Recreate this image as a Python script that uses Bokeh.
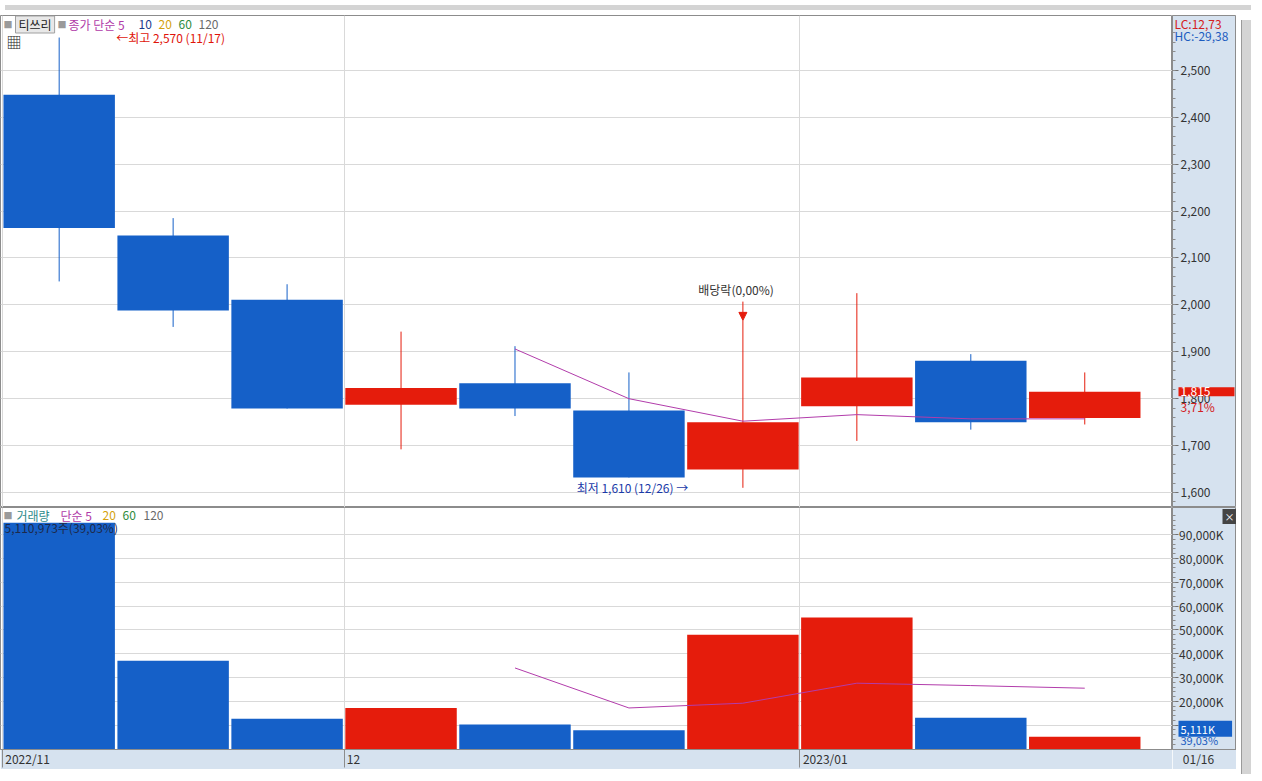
from bokeh.plotting import figure
from bokeh.models import FixedTicker, Label, Range1d, Div, Arrow, NormalHead
from bokeh.layouts import column, row
from bokeh.embed import file_html
from bokeh.resources import INLINE

# ---------------- data (weekly candles) ----------------
weeks = ["2022-11-14", "2022-11-21", "2022-11-28", "2022-12-05", "2022-12-12",
         "2022-12-19", "2022-12-26", "2023-01-02", "2023-01-09", "2023-01-16"]
opens = [2448, 2148, 2011, 1787, 1833, 1775, 1649, 1784, 1881, 1759]
highs = [2570, 2185, 2044, 1943, 1912, 1856, 1967, 2025, 1895, 1856]
lows = [2050, 1953, 1779, 1692, 1763, 1632, 1610, 1710, 1734, 1745]
closes = [2164, 1988, 1779, 1823, 1779, 1632, 1750, 1845, 1750, 1815]
price_ma5_idx = [4, 5, 6, 7, 8, 9]
price_ma5 = [1906, 1800, 1752, 1766, 1757, 1757]
volumes_k = [95000, 37000, 12700, 17200, 10300, 7850, 47900, 55200, 13095, 5111]
volume_ma5_idx = [4, 5, 6, 7, 8, 9]
volume_ma5_k = [34000, 17200, 19200, 27600, 26600, 25500]
month_ticks = [-0.5, 2.5, 6.5]
month_labels = ["2022/11", "12", "2023/01"]
price_ticks = [1600, 1700, 1800, 1900, 2000, 2100, 2200, 2300, 2400, 2500]
volume_ticks = [10000, 20000, 30000, 40000, 50000, 60000, 70000, 80000, 90000]

# ---------------- style ----------------
FONT = "Noto Sans CJK KR"
UP = "#e51c0c"
DOWN = "#1560c8"
MA = "#b23cab"
AXIS_BG = "#d6e2ef"
GRID = "#d9d9d9"
EDGE = "#8c8c8c"
FRAME_W = 1172
AXIS_W = 64
H_PRICE = 492
H_VOL = 244
X_AXIS_H = 18
X0, X1 = -0.515, 9.77
PX_PER_UNIT = FRAME_W / (X1 - X0)

xs = list(range(len(weeks)))
colors = [UP if c >= o else DOWN for o, c in zip(opens, closes)]
body_top = [max(o, c) for o, c in zip(opens, closes)]
body_bot = [min(o, c) for o, c in zip(opens, closes)]

x_range = Range1d(X0, X1)


def lab(fig, x, y, text, color="#333333", size="12px", **kw):
    l = Label(x=x, y=y, text=text, text_color=color, text_font=FONT,
              text_font_size=size, **kw)
    fig.add_layout(l)
    return l


def main_fig(height, y_range, bottom=0):
    f = figure(width=FRAME_W, height=height, x_range=x_range, y_range=y_range,
               x_axis_location="below" if bottom else None,
               y_axis_location=None, output_backend="svg",
               toolbar_location=None, min_border_left=0, min_border_top=0,
               min_border_bottom=bottom, min_border_right=0)
    f.border_fill_color = AXIS_BG
    f.background_fill_color = "white"
    f.outline_line_color = EDGE
    return f


def axis_fig(height, y_range, ticks, minor, overrides, standoff, bottom=0):
    f = figure(width=AXIS_W, height=height, x_range=Range1d(0, AXIS_W),
               y_range=y_range,
               x_axis_location="below" if bottom else None,
               y_axis_location="left", output_backend="svg",
               toolbar_location=None, min_border_left=0, min_border_top=0,
               min_border_bottom=bottom, min_border_right=0)
    f.border_fill_color = AXIS_BG
    f.background_fill_color = AXIS_BG
    f.outline_line_color = EDGE
    f.grid.visible = False
    ax = f.yaxis[0]
    ax.ticker = FixedTicker(ticks=ticks, minor_ticks=minor)
    ax.major_label_overrides = overrides
    ax.axis_line_color = EDGE
    ax.major_tick_line_color = "#707070"
    ax.minor_tick_line_color = "#8c8c8c"
    ax.major_tick_out = 0
    ax.major_tick_in = 6
    ax.minor_tick_out = 0
    ax.minor_tick_in = 3
    ax.major_label_standoff = standoff
    ax.major_label_text_font = FONT
    ax.major_label_text_font_size = "12px"
    ax.major_label_text_color = "#333333"
    return f


# ---------------- price panel ----------------
price_range = Range1d(1568, 2617)
p1 = main_fig(H_PRICE, price_range)
p1.ygrid.ticker = FixedTicker(ticks=price_ticks)
p1.ygrid.grid_line_color = GRID
p1.xgrid.ticker = FixedTicker(ticks=month_ticks)
p1.xgrid.grid_line_color = GRID

p1.segment(x0=xs, y0=lows, x1=xs, y1=highs, line_color=colors, line_width=1)
p1.vbar(x=xs, width=0.978, top=body_top, bottom=body_bot,
        fill_color=colors, line_color=None)
p1.line(x=price_ma5_idx, y=price_ma5, line_color=MA, line_width=1)

TOP = H_PRICE
scr = dict(x_units="screen", y_units="screen", text_baseline="middle")
lab(p1, 3, TOP - 9, "■", "#9a9a9a", "9px", **scr)
lab(p1, 15, TOP - 9, "티쓰리", "#222222", "12px", background_fill_color="#e8e8e8",
    border_line_color="#a0a0a0", padding=dict(left=3, right=3, top=0, bottom=0),
    **scr)
lab(p1, 57, TOP - 9, "■", "#9a9a9a", "9px", **scr)
lab(p1, 68, TOP - 9, "종가 단순 5", "#b03aa8", **scr)
lab(p1, 138, TOP - 9, "10", "#1a3a8c", **scr)
lab(p1, 158, TOP - 9, "20", "#d4a20c", **scr)
lab(p1, 178, TOP - 9, "60", "#2e8b3c", **scr)
lab(p1, 198, TOP - 9, "120", "#6a6a6a", **scr)
lab(p1, 6, TOP - 26, "▦", "#222222", "15px", **scr)

hi_i = highs.index(max(highs))
lo_i = lows.index(min(lows))
lab(p1, hi_i + 0.5, highs[hi_i], "←최고 2,570 (11/17)", "#e0140a",
    text_baseline="middle")
lab(p1, lo_i - 0.48, lows[lo_i], "최저 1,610 (12/26) →", "#1a3aa8",
    text_baseline="middle", text_align="right")

ex_i = 6
p1.add_layout(Arrow(x_start=ex_i, y_start=highs[ex_i] + 40, x_end=ex_i,
                    y_end=highs[ex_i], line_color=UP, line_width=1,
                    end=NormalHead(size=8, fill_color=UP, line_color=UP)))
lab(p1, ex_i - 0.06, highs[ex_i] + 48, "배당락(0,00%)", "#333333",
    text_baseline="bottom", text_align="center")

# price axis area
p1r = axis_fig(H_PRICE, price_range, price_ticks,
               list(range(1580, 2600, 20)),
               {t: f"{t:,}" for t in price_ticks}, -38)
lab(p1r, 2, TOP - 8, "LC:12,73", "#d42020", **scr)
lab(p1r, 2, TOP - 20, "HC:-29,38", "#1c5cc0", **scr)
lab(p1r, 6, closes[-1], "1,815", "white", x_units="screen",
    text_baseline="middle", background_fill_color=UP,
    padding=dict(left=2, right=24, top=0, bottom=0))
lab(p1r, 8, closes[-1], "3,71%", "#d42020", x_units="screen",
    text_baseline="top", y_offset=-6)

# ---------------- volume panel ----------------
vol_range = Range1d(-250, 101400)
p2 = main_fig(H_VOL + X_AXIS_H, vol_range, bottom=X_AXIS_H)
p2.ygrid.ticker = FixedTicker(ticks=volume_ticks)
p2.ygrid.grid_line_color = GRID
p2.xgrid.ticker = FixedTicker(ticks=month_ticks)
p2.xgrid.grid_line_color = GRID
label_pos = [round(m + (len(s) * 6.4 / 2 + 3) / PX_PER_UNIT, 4)
             for m, s in zip(month_ticks, month_labels)]
xa = p2.xaxis[0]
xa.ticker = FixedTicker(ticks=label_pos, minor_ticks=month_ticks)
xa.major_label_overrides = {t: s for t, s in zip(label_pos, month_labels)}
xa.axis_line_color = EDGE
xa.major_tick_line_color = None
xa.minor_tick_line_color = EDGE
xa.major_tick_out = X_AXIS_H
xa.major_tick_in = 0
xa.minor_tick_out = X_AXIS_H
xa.minor_tick_in = 0
xa.major_label_standoff = -X_AXIS_H
xa.major_label_text_font = FONT
xa.major_label_text_font_size = "12px"
xa.major_label_text_color = "#333333"

p2.vbar(x=xs, width=0.978, top=volumes_k, bottom=0, fill_color=colors,
        line_color=None)
p2.line(x=volume_ma5_idx, y=volume_ma5_k, line_color=MA, line_width=1)

VT = H_VOL
lab(p2, 3, VT - 10, "■", "#9a9a9a", "9px", **scr)
lab(p2, 16, VT - 10, "거래량", "#2e8b8b", **scr)
lab(p2, 60, VT - 10, "단순 5", "#b03aa8", **scr)
lab(p2, 102, VT - 10, "20", "#d4a20c", **scr)
lab(p2, 122, VT - 10, "60", "#2e8b3c", **scr)
lab(p2, 143, VT - 10, "120", "#6a6a6a", **scr)
lab(p2, 4, VT - 22, "5,110,973주(39,03%)", "#1e2a4a", **scr)

# volume axis area
p2r = axis_fig(H_VOL + X_AXIS_H, vol_range, volume_ticks,
               list(range(2000, 100000, 2000)),
               {t: f"{t:,}K" for t in volume_ticks}, -51, bottom=X_AXIS_H)
last_tick = [26]
rx = p2r.xaxis[0]
rx.ticker = FixedTicker(ticks=last_tick, minor_ticks=[])
rx.major_label_overrides = {last_tick[0]: weeks[-1][5:].replace("-", "/")}
rx.axis_line_color = EDGE
rx.major_tick_line_color = None
rx.minor_tick_line_color = None
rx.major_tick_out = 0
rx.major_tick_in = 0
rx.minor_tick_out = 0
rx.minor_tick_in = 0
rx.major_label_standoff = 0
rx.major_label_text_font = FONT
rx.major_label_text_font_size = "12px"
rx.major_label_text_color = "#333333"
lab(p2r, AXIS_W - 14, VT - 11, "×", "white", "10px",
    background_fill_color="#444444",
    padding=dict(left=2, right=2, top=0, bottom=0), **scr)
lab(p2r, 6, volumes_k[-1], "5,111K", "white", "11px", x_units="screen",
    text_baseline="middle", y_offset=8, background_fill_color=DOWN,
    padding=dict(left=2, right=17, top=0, bottom=0))
lab(p2r, 8, 0, "39,03%", "#1c5cc0", "11px", x_units="screen",
    text_baseline="bottom", y_offset=1)

# ---------------- frame ----------------
top_bar = Div(width=FRAME_W + AXIS_W + 10, height=5,
              styles={"background-color": "#d4d4d4"})
side_bar = Div(width=10, height=H_PRICE + H_VOL + X_AXIS_H,
               styles={"background-color": "#d4d4d4",
                       "border-left": "1px solid #9a9a9a"})
layout = column(top_bar, row(column(p1, p2), column(p1r, p2r), side_bar))

open("out.html", "w").write(file_html(layout, INLINE))
